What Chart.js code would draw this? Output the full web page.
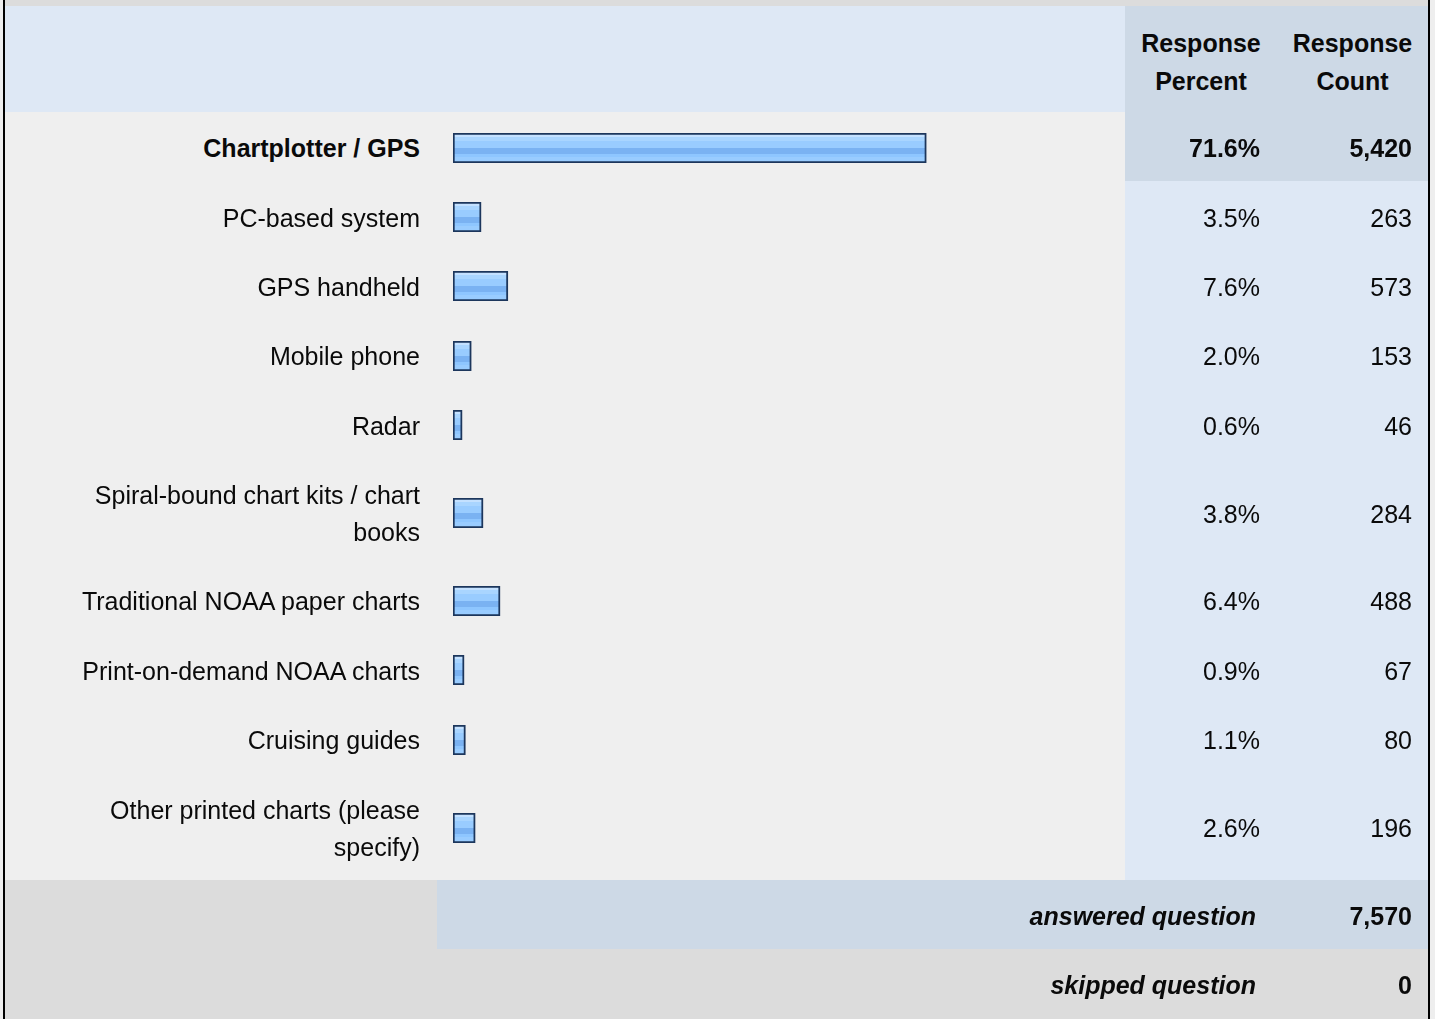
<!DOCTYPE html>
<html lang="en">
<head>
<meta charset="UTF-8" />
<title>Navigation aids</title>
<script src="https://cdn.jsdelivr.net/npm/chart.js"></script>
<style>
  html, body { margin: 0; padding: 0; background: #eeeeee; }
  body { font-family: 'Liberation Sans', Arial, sans-serif; font-size: 25px; color: #0a0a0a; }
  .frame {
    position: absolute; left: 3px; top: 0;
    width: 1423px;
    border-left: 2px solid #000;
    border-right: 2px solid #000;
  }
  .strip { height: 6px; background: #dcdcdc; }
  table { border-collapse: collapse; table-layout: fixed; width: 1423px; }
  td, th { padding: 18.2px 0 14.2px; line-height: 37px; vertical-align: middle; }
  th { font-weight: bold; background: #cdd9e6; text-align: center; line-height: 38px; padding: 18px 0 12px; }
  th.blank { background: #dee8f5; }
  td.label { background: #efefef; text-align: right; padding-left: 40px; padding-right: 17px; }
  td.bar { background: #efefef; padding-left: 16px; padding-top: 2px; padding-bottom: 0; }
  td.bar canvas { display: block; }
  td.pct { background: #dee8f5; text-align: right; padding-right: 17px; }
  td.cnt { background: #dee8f5; text-align: right; padding-right: 16px; }
  tr.top td { font-weight: bold; }
  tr.top td.pct, tr.top td.cnt { background: #cdd9e6; }
  tr.foot td { background: #dcdcdc; font-weight: bold; font-style: italic; text-align: right; }
  tr.foot td.num { font-style: normal; padding-right: 16px; }
  tr.foot td.txt { padding-right: 21px; }
  tr.answered td.shade { background: #cdd9e6; }
</style>
</head>
<body>

<div class="frame">
  <div class="strip"></div>
  <table id="results">
    <colgroup>
      <col style="width:432px"><col style="width:688px"><col style="width:152px"><col style="width:151px">
    </colgroup>
    <thead>
      <tr><th class="blank" colspan="2"></th><th>Response<br>Percent</th><th>Response<br>Count</th></tr>
    </thead>
    <tbody id="rows"></tbody>
  </table>
</div>

<script>
  // answer choices and results
  const answers = [
    'Chartplotter / GPS',
    'PC-based system',
    'GPS handheld',
    'Mobile phone',
    'Radar',
    'Spiral-bound chart kits / chart books',
    'Traditional NOAA paper charts',
    'Print-on-demand NOAA charts',
    'Cruising guides',
    'Other printed charts (please specify)'
  ];
  const percents = [71.6, 3.5, 7.6, 2.0, 0.6, 3.8, 6.4, 0.9, 1.1, 2.6];
  const counts = [5420, 263, 573, 153, 46, 284, 488, 67, 80, 196];
  const answeredCount = 7570;
  const skippedCount = 0;

  const fmt = n => n.toLocaleString('en-US');

  // bar fill: striped glossy blue
  function barFill(context) {
    const area = context.chart.chartArea;
    if (!area) return '#99ccff';
    const g = context.chart.ctx.createLinearGradient(0, area.top, 0, area.bottom);
    g.addColorStop(0, '#c4e1ff');
    g.addColorStop(0.14, '#c4e1ff');
    g.addColorStop(0.14, '#a9d5ff');
    g.addColorStop(0.27, '#a9d5ff');
    g.addColorStop(0.27, '#99ccff');
    g.addColorStop(0.50, '#99ccff');
    g.addColorStop(0.50, '#7ab2f2');
    g.addColorStop(0.70, '#7ab2f2');
    g.addColorStop(0.70, '#8ec6ff');
    g.addColorStop(0.80, '#8ec6ff');
    g.addColorStop(0.80, '#99ccff');
    g.addColorStop(1, '#99ccff');
    return g;
  }

  const tbody = document.getElementById('rows');
  const maxIdx = percents.indexOf(Math.max(...percents));

  answers.forEach((label, i) => {
    const tr = document.createElement('tr');
    if (i === maxIdx) tr.className = 'top';
    tr.innerHTML =
      `<td class="label">${label}</td>` +
      `<td class="bar"><canvas width="659" height="30"></canvas></td>` +
      `<td class="pct">${percents[i].toFixed(1)}%</td>` +
      `<td class="cnt">${fmt(counts[i])}</td>`;
    tbody.appendChild(tr);

    new Chart(tr.querySelector('canvas'), {
      type: 'bar',
      data: {
        labels: [label],
        datasets: [{
          data: [percents[i]],
          base: -0.8,
          backgroundColor: barFill,
          borderColor: '#1c365c',
          borderWidth: 2,
          borderSkipped: false,
          barPercentage: 1,
          categoryPercentage: 1
        }]
      },
      options: {
        indexAxis: 'y',
        responsive: false,
        animation: false,
        events: [],
        layout: { padding: 0 },
        plugins: { legend: { display: false }, tooltip: { enabled: false } },
        scales: {
          x: { type: 'linear', min: -0.8, max: 100, display: false },
          y: { display: false }
        }
      }
    });
  });

  // footer rows
  const answered = document.createElement('tr');
  answered.className = 'foot answered';
  answered.innerHTML =
    `<td></td><td class="shade txt" colspan="2">answered question</td>` +
    `<td class="shade num">${fmt(answeredCount)}</td>`;
  tbody.appendChild(answered);

  const skipped = document.createElement('tr');
  skipped.className = 'foot';
  skipped.innerHTML =
    `<td></td><td class="txt" colspan="2">skipped question</td>` +
    `<td class="num">${fmt(skippedCount)}</td>`;
  tbody.appendChild(skipped);
</script>

</body>
</html>
